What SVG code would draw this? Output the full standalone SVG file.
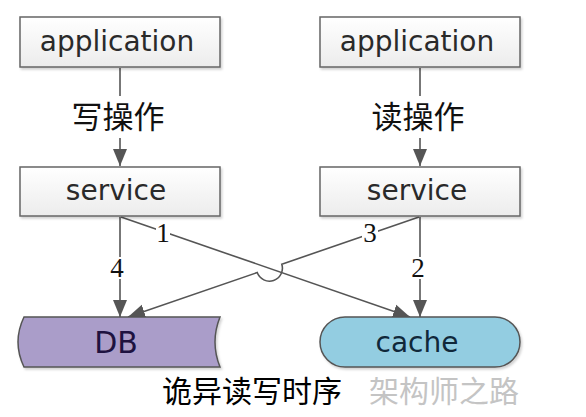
<svg xmlns="http://www.w3.org/2000/svg" width="586" height="417" viewBox="0 0 586 417">
<defs>
<linearGradient id="boxg" x1="0" y1="0" x2="0" y2="1">
<stop offset="0" stop-color="#ffffff"/>
<stop offset="1" stop-color="#ececec"/>
</linearGradient>
<marker id="ah" markerUnits="userSpaceOnUse" markerWidth="18" markerHeight="16" viewBox="0 -8 18 16" refX="17" refY="0" orient="auto">
<path d="M0,-7 L17,0 L0,7 z" fill="#555"/>
</marker>
<filter id="sh" x="-5%" y="-5%" width="112%" height="125%">
<feDropShadow dx="1.5" dy="2" stdDeviation="1.2" flood-color="#000" flood-opacity="0.18"/>
</filter>
</defs>
<style>
.box{fill:url(#boxg);stroke:#666;stroke-width:1.5}
.t{font-family:"DejaVu Sans","Liberation Sans",sans-serif;font-size:28px;fill:#2a2a2a;text-anchor:middle}
.cjk{font-family:"Noto Sans CJK SC","Noto Sans",sans-serif;font-size:31px;fill:#111;text-anchor:middle}
.num{font-family:"Liberation Serif",serif;font-size:27px;fill:#111;text-anchor:middle}
.ln{fill:none;stroke:#555;stroke-width:1.6}
.bg{fill:#fff}
</style>

<g id="connectors">
<line class="ln" x1="120" y1="68" x2="120" y2="166" marker-end="url(#ah)"/>
<line class="ln" x1="420" y1="68" x2="420" y2="166" marker-end="url(#ah)"/>
<line class="ln" x1="120" y1="217" x2="120" y2="317" marker-end="url(#ah)"/>
<line class="ln" x1="420" y1="217" x2="420" y2="317" marker-end="url(#ah)"/>
<line class="ln" x1="121" y1="217" x2="410" y2="317" marker-end="url(#ah)"/>
<path class="ln" d="M419,217 L281.8,264.2 A13 13 0 0 1 257.2,272.6 L128,317" marker-end="url(#ah)"/>
<rect class="bg" x="64" y="96" width="110" height="42"/>
<text class="cjk" x="118" y="128">写操作</text>
<rect class="bg" x="364" y="96" width="110" height="42"/>
<text class="cjk" x="418" y="128">读操作</text>
<rect class="bg" x="156" y="220" width="14" height="24"/>
<text class="num" x="163" y="242">1</text>
<rect class="bg" x="362" y="217" width="16" height="27"/>
<text class="num" x="370" y="242">3</text>
<rect class="bg" x="109" y="257" width="17" height="22"/>
<text class="num" x="117" y="277">4</text>
<rect class="bg" x="410" y="257" width="16" height="22"/>
<text class="num" x="418" y="277">2</text>
</g>

<g id="app-left">
<rect class="box" x="20" y="17" width="200" height="50" filter="url(#sh)"/>
<text class="t" x="117" y="51">application</text>
</g>
<g id="app-right">
<rect class="box" x="320" y="17" width="200" height="50" filter="url(#sh)"/>
<text class="t" x="417" y="51">application</text>
</g>
<g id="service-left">
<rect class="box" x="20" y="167" width="200" height="49" filter="url(#sh)"/>
<text class="t" x="116" y="200">service</text>
</g>
<g id="service-right">
<rect class="box" x="320" y="167" width="200" height="49" filter="url(#sh)"/>
<text class="t" x="417" y="200">service</text>
</g>
<g id="db">
<path d="M24,317 L220,317 Q210,342 220,367 L24,367 Q12,342 24,317 z" fill="#aa9dc9" stroke="#555" stroke-width="1.5" filter="url(#sh)"/>
<text class="t" x="116" y="353" style="font-size:30px;fill:#1e1240">DB</text>
</g>
<g id="cache">
<rect x="320" y="317" width="200" height="50" rx="25" ry="25" fill="#93cde1" stroke="#555" stroke-width="1.5" filter="url(#sh)"/>
<text class="t" x="417" y="352" style="font-size:28px;fill:#10283a">cache</text>
</g>
<g id="caption">
<text class="cjk" x="252" y="402" style="font-size:30px;fill:#000">诡异读写时序</text>
<text class="cjk" x="444" y="402" style="font-size:30px;fill:#c4c4c4">架构师之路</text>
</g>
</svg>
